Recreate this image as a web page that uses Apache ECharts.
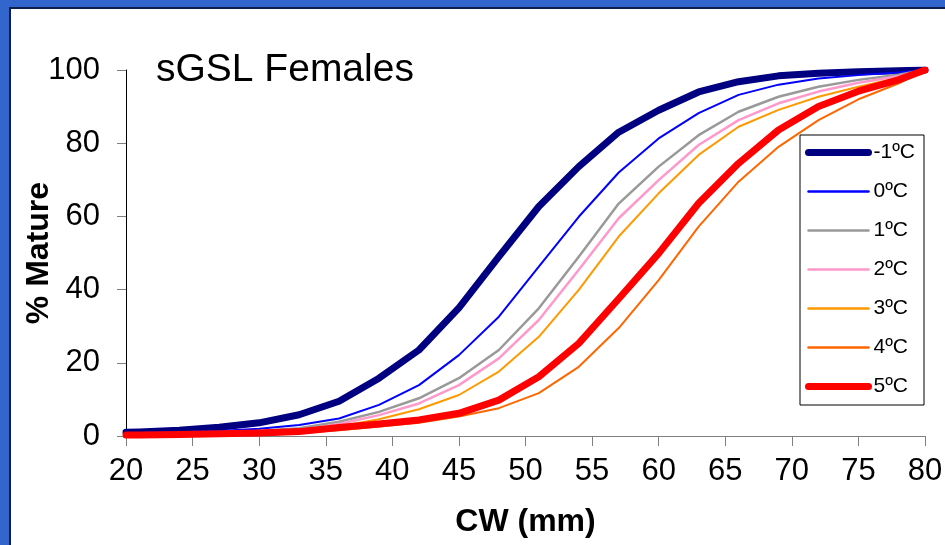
<!DOCTYPE html>
<html>
<head>
<meta charset="utf-8">
<script src="https://cdn.jsdelivr.net/npm/echarts@6/dist/echarts.min.js"></script>
<style>
  html, body { margin: 0; padding: 0; }
  body { width: 945px; height: 545px; background: #3366cc; position: relative; overflow: hidden; }
  #panel { position: absolute; left: 9px; top: 7px; right: 0; bottom: 0; background: #ffffff;
           border-left: 2px solid #0d1f4d; border-top: 2px solid #0d1f4d; }
  #chart { position: absolute; left: 0; top: 0; width: 945px; height: 545px; }
</style>
</head>
<body>
<div id="panel"></div>
<div id="chart"></div>
<script>
// Carapace width (mm) at which maturity proportions are given
const cw = [20, 21, 24, 27, 30, 33, 36, 39, 42, 45, 48, 51, 54, 57, 60, 63, 66, 69, 72, 75, 78, 80];

// % mature for each bottom temperature
const tempM1 = [1.0, 1.1, 1.6, 2.4, 3.6, 5.8, 9.5, 15.8, 23.5, 35.0, 49.0, 62.7, 73.6, 83.0, 89.0, 94.0, 96.8, 98.4, 99.1, 99.5, 99.8, 100];
const temp0  = [0.8, 0.8, 1.0, 1.4, 2.0, 3.0, 4.8, 8.5, 13.9, 22.1, 32.6, 46.3, 59.9, 72.0, 81.3, 88.2, 93.2, 96.0, 97.7, 98.6, 99.3, 100];
const temp1  = [0.5, 0.5, 0.7, 1.0, 1.4, 2.1, 3.9, 6.6, 10.3, 15.8, 23.5, 34.9, 49.0, 63.5, 73.6, 82.2, 88.6, 92.7, 95.4, 97.3, 98.7, 100];
const temp2  = [0.5, 0.5, 0.6, 0.8, 1.1, 1.6, 3.3, 5.7, 8.9, 13.9, 21.2, 31.7, 45.4, 59.5, 69.9, 79.5, 86.3, 90.9, 94.1, 96.5, 98.3, 100];
const temp3  = [0.4, 0.4, 0.5, 0.7, 1.0, 1.4, 2.6, 4.6, 7.3, 11.2, 17.6, 27.1, 39.9, 54.5, 66.3, 76.8, 84.5, 89.1, 92.7, 95.4, 97.8, 100];
const temp4  = [0.3, 0.3, 0.4, 0.5, 0.7, 0.9, 1.6, 2.6, 3.6, 5.3, 7.6, 11.7, 18.9, 29.5, 42.6, 57.2, 69.5, 79.0, 86.3, 92.0, 96.3, 100];
const temp5  = [0.3, 0.3, 0.4, 0.6, 0.8, 1.2, 2.3, 3.3, 4.4, 6.2, 9.8, 16.2, 25.3, 37.5, 49.9, 63.6, 74.5, 83.6, 90.0, 94.2, 97.3, 100];

const seriesNames = ['-1ºC', '0ºC', '1ºC', '2ºC', '3ºC', '4ºC', '5ºC'];
const seriesValues = [tempM1, temp0, temp1, temp2, temp3, temp4, temp5];
const seriesColors = ['#000080', '#0000ff', '#999999', '#ff99cc', '#ff9900', '#ff6600', '#ff0000'];
const seriesWidths = [7, 2, 2.5, 2.5, 2, 2, 7];

const font = 'Liberation Sans, Arial, Helvetica, sans-serif';

const chart = echarts.init(document.getElementById('chart'), null, { renderer: 'canvas' });

const series = seriesNames.map((name, i) => ({
  name: name,
  type: 'line',
  data: cw.map((x, j) => [x, seriesValues[i][j]]),
  showSymbol: false,
  symbol: 'none',
  color: seriesColors[i],
  lineStyle: { color: seriesColors[i], width: seriesWidths[i], cap: 'round', join: 'round' },
  emphasis: { disabled: true },
  animation: false,
  z: 2 + i
}));

chart.setOption({
  backgroundColor: 'transparent',
  animation: false,
  title: {
    text: 'sGSL Females',
    left: 156,
    top: 51,
    padding: 0,
    textStyle: { fontFamily: font, fontSize: 39, fontWeight: 'normal', color: '#000' }
  },
  grid: { left: 126, right: 20, top: 70, bottom: 109, containLabel: false, outerBoundsMode: 'none' },
  legend: {
    orient: 'vertical',
    left: 800,
    top: 135,
    padding: [7, 9, 8, 5],
    itemWidth: 60,
    itemHeight: 18,
    itemGap: 18,
    backgroundColor: '#ffffff',
    borderColor: '#000000',
    borderWidth: 1,
    borderRadius: 0,
    textStyle: { fontFamily: font, fontSize: 21, color: '#000', lineHeight: 18 },
    data: seriesNames.map((name, i) => ({
      name: name,
      itemStyle: { opacity: 0 },
      lineStyle: { width: seriesWidths[i] === 7 ? 7 : 2.5, cap: 'round', color: seriesColors[i] }
    }))
  },
  xAxis: {
    type: 'value',
    min: 20,
    max: 80,
    interval: 5,
    name: 'CW (mm)',
    nameLocation: 'middle',
    nameGap: 70,
    nameMoveOverlap: false,
    nameTextStyle: { fontFamily: font, fontSize: 32, fontWeight: 'bold', color: '#000' },
    axisLine: { show: true, onZero: false, lineStyle: { color: '#808080', width: 1 } },
    axisTick: { show: true, inside: false, length: 10, lineStyle: { color: '#808080', width: 1 } },
    axisLabel: { margin: 20, fontFamily: font, fontSize: 31, color: '#000' },
    splitLine: { show: false }
  },
  yAxis: {
    type: 'value',
    min: 0,
    max: 100,
    interval: 20,
    name: '% Mature',
    nameLocation: 'middle',
    nameRotate: 90,
    nameGap: 71,
    nameMoveOverlap: false,
    nameTextStyle: { fontFamily: font, fontSize: 32, fontWeight: 'bold', color: '#000' },
    axisLine: { show: true, lineStyle: { color: '#000000', width: 1 } },
    axisTick: { show: true, inside: false, length: 9, lineStyle: { color: '#808080', width: 1 } },
    axisLabel: { margin: 26, fontFamily: font, fontSize: 31, color: '#000' },
    splitLine: { show: false }
  },
  series: series
});
</script>
</body>
</html>
